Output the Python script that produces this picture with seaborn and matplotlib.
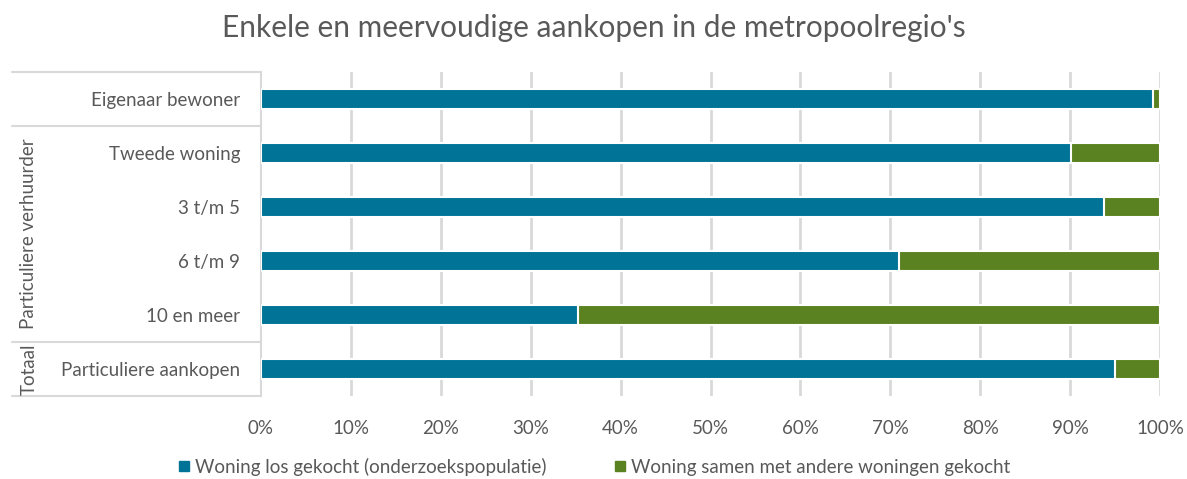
import matplotlib
matplotlib.use("Agg")
import matplotlib.pyplot as plt
import seaborn as sns
import pandas as pd
import numpy as np
from matplotlib.lines import Line2D

categories = ["Eigenaar bewoner", "Tweede woning", "3 t/m 5", "6 t/m 9",
              "10 en meer", "Particuliere aankopen"]
los = [99.2, 90.1, 93.8, 71.0, 35.3, 95.0]
samen = [0.8, 9.9, 6.2, 29.0, 64.7, 5.0]
series_names = ["Woning los gekocht (onderzoekspopulatie)",
                "Woning samen met andere woningen gekocht"]
xticks = [0, 10, 20, 30, 40, 50, 60, 70, 80, 90, 100]
groups = [("Particuliere verhuurder", 1, 4), ("Totaal", 5, 5)]

BLUE = "#007396"
GREEN = "#5a8221"
TXT = "#595959"
GRID = "#d9d9d9"

sns.set_theme(style="white")
plt.rcParams["font.family"] = ["Lato", "DejaVu Sans"]

df = pd.DataFrame({"cat": categories, "los": los, "samen": samen})
df["total"] = df["los"] + df["samen"]

fig = plt.figure(figsize=(11.87, 4.79), dpi=100)
ax = fig.add_axes([261/1187, 1 - 396/479, (1160-261)/1187, (396-72)/479])

sns.barplot(data=df, y="cat", x="total", color=GREEN, orient="h", ax=ax,
            width=0.36, edgecolor="white", linewidth=1.5, saturation=1, zorder=3)
sns.barplot(data=df, y="cat", x="los", color=BLUE, orient="h", ax=ax,
            width=0.36, edgecolor="white", linewidth=1.5, saturation=1, zorder=4)

ax.set_xlim(0, 100)
ax.set_ylim(len(categories) - 0.5, -0.5)
ax.set_xticks(xticks)
ax.set_xticklabels([f"{v}%" for v in xticks], color=TXT, fontsize=13.5)
ax.tick_params(axis="x", length=0, pad=17)
ax.tick_params(axis="y", length=0, pad=15, labelsize=13.5, labelcolor=TXT)
ax.set_xlabel("")
ax.set_ylabel("")
for x in xticks[1:]:
    ax.axvline(x, color=GRID, lw=2, zorder=1)
for s in ["top", "right", "bottom"]:
    ax.spines[s].set_visible(False)
ax.spines["left"].set_color(GRID)
ax.spines["left"].set_linewidth(1.5)

# group separators on the left
trans = ax.get_yaxis_transform()
for yb in [-0.5, 0.5, 4.5, 5.5]:
    ax.add_line(Line2D([-(261-12)/(1160-261), 0], [yb, yb], transform=trans,
                       color=GRID, lw=1.5, clip_on=False))
for name, a, b in groups:
    ax.text(-(261-29)/(1160-261), (a + b) / 2, name, transform=trans,
            rotation=90, ha="center", va="center", fontsize=13.5, color=TXT)

fig.text(0.5, 1 - 28/479, "Enkele en meervoudige aankopen in de metropoolregio's",
         ha="center", va="center", fontsize=21.5, color=TXT)

handles = [Line2D([], [], marker="s", ls="", color=BLUE, markersize=7),
           Line2D([], [], marker="s", ls="", color=GREEN, markersize=7)]
fig.legend(handles, series_names, loc="center", bbox_to_anchor=(0.5, 1 - 467/479),
           ncol=2, frameon=False, fontsize=13.5, labelcolor=TXT,
           handletextpad=0.2, columnspacing=3.5, handlelength=0.8)

fig.savefig("out.png", dpi=100)
